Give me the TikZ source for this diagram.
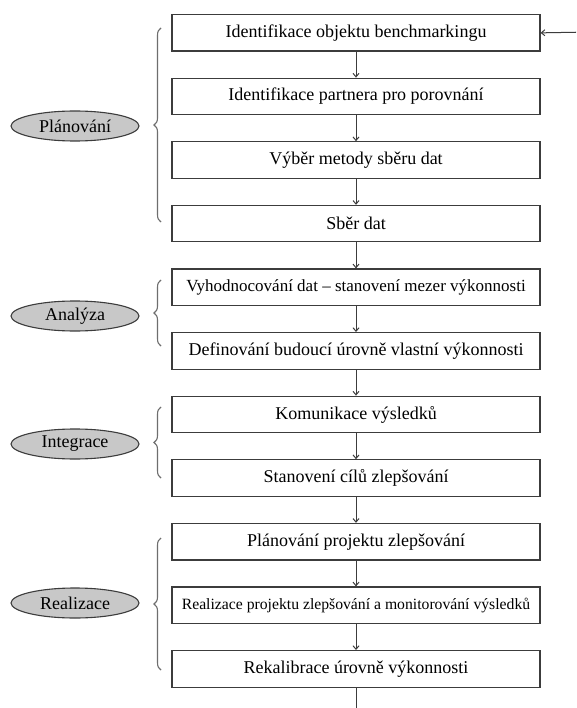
\documentclass[tikz,border=0pt]{standalone}
\usepackage{fontspec}
\setmainfont{Liberation Serif}
\usetikzlibrary{arrows.meta,shapes.geometric,decorations.pathreplacing}
\definecolor{lineg}{RGB}{60,60,60}
\definecolor{ellfill}{RGB}{200,200,200}
\definecolor{bracec}{RGB}{110,110,110}
\begin{document}
\begin{tikzpicture}[x=1pt,y=-1pt,
  stepbox/.style={draw=lineg, line width=1.2pt, minimum width=368pt, minimum height=36.5pt,
    inner sep=0pt, anchor=north, font=\fontsize{18}{20}\selectfont},
  phase/.style={ellipse, draw=lineg, line width=1.1pt, fill=ellfill, minimum width=128pt,
    minimum height=30pt, inner sep=0pt, font=\fontsize{18}{20}\selectfont},
  arr/.style={draw=lineg, line width=1pt, -{Straight Barb[length=3.5pt,width=6pt]}},
  plain/.style={draw=lineg, line width=1pt},
  brc/.style={draw=bracec, line width=1.1pt, decorate, decoration={brace, amplitude=7pt}}]
\useasboundingbox[fill=white] (0,0) rectangle (576,708);

\node[stepbox] (b1) at (356,14) {Identifikace objektu benchmarkingu};
\node[stepbox] (b2) at (356,77.6) {Identifikace partnera pro porovnání};
\node[stepbox] (b3) at (356,141.2) {Výběr metody sběru dat};
\node[stepbox] (b4) at (356,204.8) {Sběr dat};
\node[stepbox, font=\fontsize{17}{20}\selectfont] (b5) at (356,268.4) {Vyhodnocování dat – stanovení mezer výkonnosti};
\node[stepbox] (b6) at (356,332) {Definování budoucí úrovně vlastní výkonnosti};
\node[stepbox] (b7) at (356,395.6) {Komunikace výsledků};
\node[stepbox] (b8) at (356,459.2) {Stanovení cílů zlepšování};
\node[stepbox] (b9) at (356,522.8) {Plánování projektu zlepšování};
\node[stepbox, font=\fontsize{15.7}{20}\selectfont] (b10) at (356,586.4) {Realizace projektu zlepšování a monitorování výsledků};
\node[stepbox] (b11) at (356,650) {Rekalibrace úrovně výkonnosti};

\coordinate (in) at (576,32.25);
\coordinate (out) at (356,708);
\draw[arr] (in) -- (b1.east);
\foreach \a/\b in {b1/b2,b2/b3,b3/b4,b4/b5,b5/b6,b6/b7,b7/b8,b8/b9,b9/b10,b10/b11}
  \draw[arr] (\a) -- (\b);
\draw[plain] (b11) -- (out);

\node[phase] (p1) at (75,126) {Plánování};
\node[phase] (p2) at (75,316) {Analýza};
\node[phase] (p3) at (75,444) {Integrace};
\node[phase] (p4) at (75,603) {Realizace};

\coordinate (r1b) at (161,222); \coordinate (r1t) at (161,28);
\coordinate (r2b) at (161,346); \coordinate (r2t) at (161,280);
\coordinate (r3b) at (161,478); \coordinate (r3t) at (161,407);
\coordinate (r4b) at (161,670); \coordinate (r4t) at (161,538);
\draw[brc] (r1b) -- (r1t);
\draw[brc] (r2b) -- (r2t);
\draw[brc] (r3b) -- (r3t);
\draw[brc] (r4b) -- (r4t);
\end{tikzpicture}
\end{document}
